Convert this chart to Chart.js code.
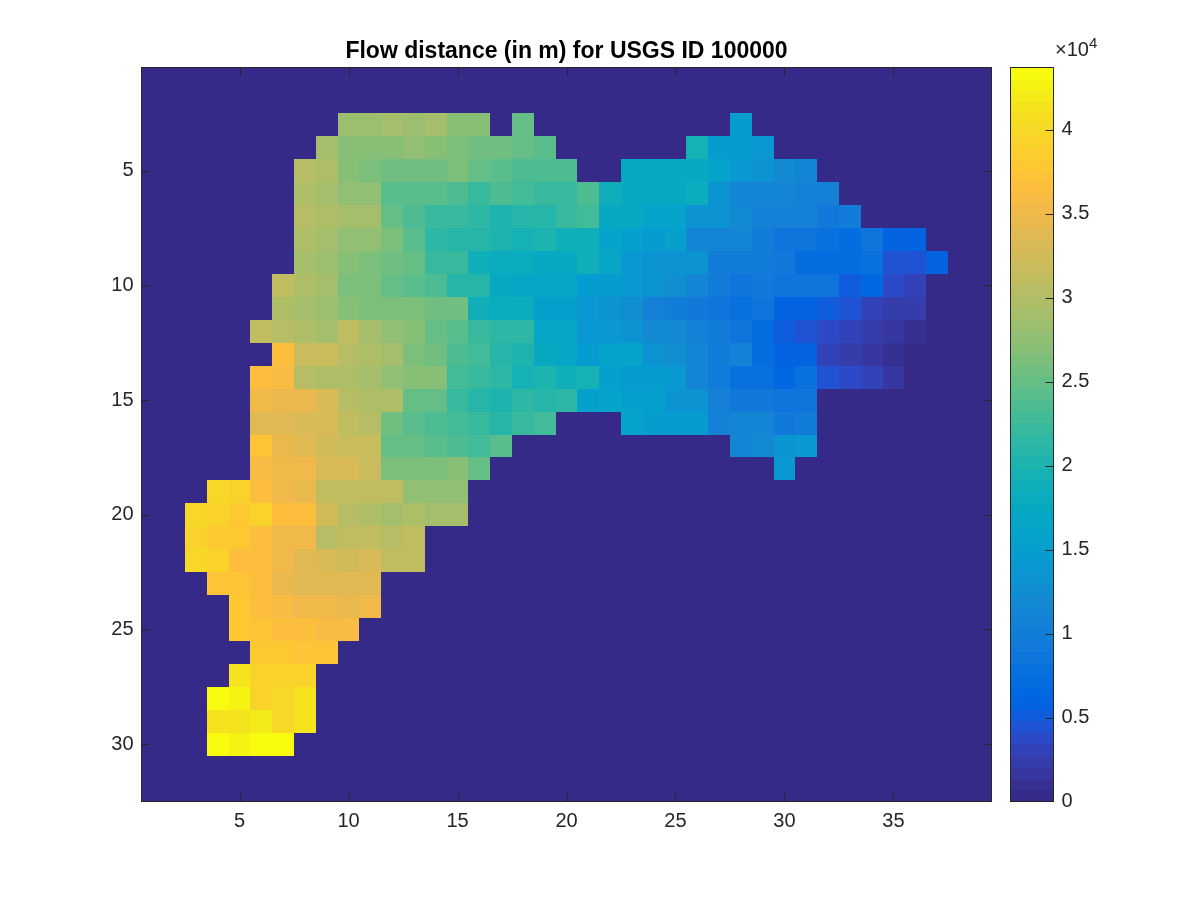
<!DOCTYPE html>
<html>
<head>
<meta charset="utf-8">
<style>
html,body{margin:0;padding:0;background:#fff;}
canvas{position:absolute;left:0;top:0;}
</style>
<script src="https://cdn.jsdelivr.net/npm/chart.js@4"></script>
</head>
<body>
<canvas id="map" width="1200" height="900"></canvas>
<canvas id="bar" width="1200" height="900"></canvas>
<script>
const titleText = 'Flow distance (in m) for USGS ID 100000';
const xTickValues = [5,10,15,20,25,30,35];
const yTickValues = [5,10,15,20,25,30];
const barTickValues = [0,0.5,1,1.5,2,2.5,3,3.5,4];
const barExponent = '4';
const maxValue = 4.37; // x 10^4 m
const columnCount = 39;

// flow distance per cell, in km; rows read top to bottom, missing trailing cells are 0
const row01 = [];
const row02 = [];
const row03 = [0,0,0,0,0,0,0,0,0,28,28,29,28,29.3,27,27,0,25.2,0,0,0,0,0,0,0,0,0,15];
const row04 = [0,0,0,0,0,0,0,0,28.7,27.3,26.8,26.8,27.5,27,26.2,25.3,25.3,24.9,24,0,0,0,0,0,0,19.2,15,14.8,14];
const row05 = [0,0,0,0,0,0,0,30.6,30,27.3,26.2,25.3,25.3,25.3,26.3,24.9,24,23.5,23.5,23.5,0,0,17.5,17.5,17.5,17.7,16.2,14.3,13.5,12.2,11.5];
const row06 = [0,0,0,0,0,0,0,29.5,28.7,27.4,27.4,24.3,24.1,24.1,23.5,22.2,23.7,22.7,22.1,22.1,23.6,18.5,17.3,17.3,17.3,18,13.3,11.5,11.5,11.5,10.3,10.9];
const row07 = [0,0,0,0,0,0,0,30.4,29.5,28.7,28.7,25,23.4,22.2,22,21.3,20.3,21,20.6,22.1,22.6,17.3,17.3,16.2,16,13.2,13.2,12,10.5,10.5,10.5,9,9.6];
const row08 = [0,0,0,0,0,0,0,29.5,29,27.5,27.5,26,24.2,21.7,21,20.6,20,19.2,20.3,19,19,16.3,15.5,15,15.2,11.3,11.3,11.3,10,8.8,8.8,7.8,7.3,8.5,6,6];
const row09 = [0,0,0,0,0,0,0,29,28,27.2,26,25.4,24.8,22.4,22,18.5,18,18,17.5,17.5,18.8,16.5,14,13,13,13,10.2,10.2,10.2,9.3,7.2,7.2,7.2,7.6,4.7,4.7,5.5];
const row10 = [0,0,0,0,0,0,30.8,29.8,29.3,26.6,26,24.8,24.1,23.6,20.5,20.5,17.5,16.5,16.5,16.5,14.5,14.5,14,13,12.3,11.3,10.2,8.8,9,8.8,8.8,8.2,5.2,6.3,3.8,2.9];
const row11 = [0,0,0,0,0,0,29.6,29,28,27,26,26,26,25.4,25.4,18.6,18.3,18.3,15.5,15.3,13.8,13.5,12.3,10.4,10.2,8.9,8.6,7.6,8.7,5.9,6,5.3,4.5,3,2.6,2.6];
const row12 = [0,0,0,0,0,30.8,30.2,29.8,28.7,30.8,29,27.4,27,24.6,24.3,22.2,21.5,21.5,17,16.5,14.1,14.2,13.4,12.2,12,10.3,10,8.8,7,5.1,4.2,3.5,2.9,2.6,1.7,1];
const row13 = [0,0,0,0,0,0,36.5,31.5,31.5,30.4,29.9,29.3,26.4,25.8,23.8,23,20.6,20,17.5,16.6,15,16.2,16,13.3,12.4,11,10,10.5,7.4,6,6,3.4,2.5,1.8,1.2];
const row14 = [0,0,0,0,0,36.5,35.8,30.4,30,29.4,29,27.4,27,27,22.7,22.5,21.5,19.2,20.3,19,19.2,15.3,14.6,14.6,14.2,11.2,10,7.8,7.6,6.7,8,4.6,4,3.1,2];
const row15 = [0,0,0,0,0,35.3,34.5,34.5,33,30.3,29.8,29.5,24.8,24.6,22,21,20.2,21.2,20.7,21.5,15.5,15.8,15.6,15.2,13.5,13.4,10.5,9,9,8.7,8.7];
const row16 = [0,0,0,0,0,34,33.5,32.8,33,30.8,30.4,25.8,24.1,23.4,22.7,22.1,20.9,22.3,22.8,0,0,0,15.8,14.5,14.5,14.5,10.8,11,11,9,10];
const row17 = [0,0,0,0,0,37,34.2,33.7,32.7,31.5,31.5,25.2,25,24,23.5,22.8,23.9,0,0,0,0,0,0,0,0,0,0,11.5,12,13,13.8];
const row18 = [0,0,0,0,0,35.8,35.4,35,33.2,33.2,31.8,26.6,26.3,26.3,27,24.9,0,0,0,0,0,0,0,0,0,0,0,0,0,14];
const row19 = [0,0,0,39.8,39.6,36.8,35.3,34.5,31.2,31,31,30.8,27.8,27.8,27.8];
const row20 = [0,0,40,39.5,37.8,39.5,36.3,36.3,32.3,30.3,29.6,29,30,29.2,29.2];
const row21 = [0,0,39,38,37.6,36.8,35,35,30.6,30.8,30.8,30.4,31];
const row22 = [0,0,39.8,39,36.8,36.2,35.2,33.6,33,32.4,33,31,31.3];
const row23 = [0,0,0,37.4,37,36.5,34.5,34,33.6,33.6,33.6];
const row24 = [0,0,0,0,38,36.2,35.6,35,35,34.4,35.4];
const row25 = [0,0,0,0,37.8,37,36.6,36.6,36,36];
const row26 = [0,0,0,0,0,37.8,37.8,37,37];
const row27 = [0,0,0,0,41,39,39.2,39.2];
const row28 = [0,0,0,43.4,42.6,39.5,39.8,41];
const row29 = [0,0,0,41.4,41,41.8,40,41.3];
const row30 = [0,0,0,43.4,42.6,43.5,43.5];
const row31 = [];
const row32 = [];

const rows = [row01,row02,row03,row04,row05,row06,row07,row08,row09,row10,row11,row12,row13,row14,row15,row16,
              row17,row18,row19,row20,row21,row22,row23,row24,row25,row26,row27,row28,row29,row30,row31,row32];

// MATLAB parula colormap, 64 levels
const parula = [
[.2081,.1663,.5292],[.2116,.1898,.5777],[.2123,.2138,.6270],[.2081,.2386,.6771],[.1959,.2645,.7279],[.1707,.2919,.7792],[.1253,.3242,.8303],[.0591,.3598,.8683],
[.0117,.3875,.8820],[.0060,.4086,.8828],[.0165,.4266,.8786],[.0329,.4430,.8720],[.0498,.4586,.8641],[.0629,.4737,.8554],[.0723,.4887,.8467],[.0779,.5040,.8384],
[.0793,.5200,.8312],[.0749,.5375,.8263],[.0641,.5570,.8240],[.0488,.5772,.8228],[.0343,.5966,.8199],[.0265,.6137,.8135],[.0239,.6287,.8038],[.0231,.6418,.7913],
[.0228,.6535,.7768],[.0267,.6642,.7607],[.0384,.6743,.7436],[.0590,.6838,.7254],[.0843,.6928,.7062],[.1133,.7015,.6859],[.1453,.7098,.6646],[.1801,.7177,.6424],
[.2178,.7250,.6193],[.2586,.7317,.5954],[.3022,.7376,.5712],[.3482,.7424,.5473],[.3953,.7459,.5244],[.4420,.7481,.5033],[.4871,.7491,.4840],[.5300,.7491,.4661],
[.5709,.7485,.4494],[.6099,.7473,.4337],[.6473,.7456,.4188],[.6834,.7435,.4044],[.7184,.7411,.3905],[.7525,.7384,.3768],[.7858,.7356,.3633],[.8185,.7327,.3498],
[.8507,.7299,.3360],[.8824,.7274,.3217],[.9139,.7258,.3063],[.9450,.7261,.2886],[.9739,.7314,.2666],[.9938,.7455,.2403],[.9990,.7653,.2164],[.9955,.7861,.1967],
[.9880,.8066,.1794],[.9789,.8271,.1633],[.9697,.8481,.1475],[.9626,.8705,.1309],[.9589,.8949,.1132],[.9598,.9218,.0948],[.9661,.9514,.0755],[.9763,.9831,.0538]
];
const toCss = c => `rgb(${Math.round(c[0]*255)},${Math.round(c[1]*255)},${Math.round(c[2]*255)})`;
const colorFor = km => toCss(parula[Math.min(parula.length-1, Math.floor(km/10/maxValue*parula.length))]);

const FONT = '"Liberation Sans", Arial, sans-serif';
const INK = '#262626';
const TICK_SIZE = 20;
Chart.defaults.font.family = FONT;
Chart.defaults.color = INK;
Chart.defaults.animation = false;

const columnLabels = Array.from({length:columnCount},(_, i)=>String(i+1));

const datasets = rows.map((row, r) => {
  const values = columnLabels.map((_, c) => row[c] ?? 0);
  return {
    label: 'row ' + (r+1),
    data: values.map(() => [r+0.5, r+1.5]),
    backgroundColor: values.map(colorFor),
    borderWidth: 0,
    inflateAmount: 0,
    barPercentage: 1,
    categoryPercentage: 1,
    grouped: false
  };
});

// snap the cells the scales placed onto whole pixels so that neighbours share a crisp edge
const snapPlugin = {
  id: 'snap',
  beforeDatasetsDraw(chart) {
    chart.data.datasets.forEach((_, i) => {
      chart.getDatasetMeta(i).data.forEach(el => {
        const left = Math.round(el.x - el.width/2), right = Math.round(el.x + el.width/2);
        const top = Math.round(Math.min(el.y, el.base)), bottom = Math.round(Math.max(el.y, el.base));
        el.x = (left+right)/2; el.width = right-left;
        el.y = top; el.base = bottom; el.height = bottom-top;
      });
    });
  }
};

const crisp = v => Math.floor(v)+0.5;

// MATLAB style box: frame plus inward ticks on all sides
const boxPlugin = {
  id: 'box',
  afterDatasetsDraw(chart) {
    const {ctx, chartArea:a, scales:{x,y}} = chart;
    const L = crisp(a.left), R = crisp(a.right), T = crisp(a.top), B = crisp(a.bottom);
    ctx.save();
    ctx.strokeStyle = INK; ctx.lineWidth = 1;
    ctx.strokeRect(L, T, R-L, B-T);
    ctx.beginPath();
    xTickValues.forEach(v => {
      const p = Math.round(x.getPixelForValue(v-1))+0.5;
      ctx.moveTo(p,B); ctx.lineTo(p,B-8); ctx.moveTo(p,T); ctx.lineTo(p,T+8);
    });
    yTickValues.forEach(v => {
      const p = Math.round(y.getPixelForValue(v))+0.5;
      ctx.moveTo(L,p); ctx.lineTo(L+8,p); ctx.moveTo(R,p); ctx.lineTo(R-8,p);
    });
    ctx.stroke();
    ctx.restore();
  }
};

new Chart(document.getElementById('map'), {
  type: 'bar',
  data: { labels: columnLabels, datasets },
  options: {
    responsive: false,
    layout: { padding: { left: 41.5, right: 208.5, top: 0, bottom: 38.5 } },
    plugins: {
      legend: { display: false },
      tooltip: { enabled: false },
      title: {
        display: true, text: titleText, fullSize: false, color: '#000',
        font: { size: 23, weight: 'bold', family: FONT, lineHeight: 1.2 },
        padding: { top: 38, bottom: 1.9 }
      }
    },
    scales: {
      x: {
        type: 'category', offset: true,
        grid: { display: false, drawTicks: false }, border: { display: false },
        afterBuildTicks: s => { s.ticks = xTickValues.map(v => ({ value: v-1 })); },
        afterFit: s => { s.height = 60; },
        ticks: { autoSkip: false, maxRotation: 0, padding: 8, font: { size: TICK_SIZE },
                 callback(v) { return this.getLabelForValue(v); } }
      },
      y: {
        type: 'linear', reverse: true, min: 0.5, max: 32.5,
        grid: { display: false, drawTicks: false }, border: { display: false },
        afterBuildTicks: s => { s.ticks = yTickValues.map(v => ({ value: v })); },
        afterFit: s => { s.width = 100; },
        ticks: { padding: 8, font: { size: TICK_SIZE } }
      }
    }
  },
  plugins: [snapPlugin, boxPlugin]
});

// colour bar
const barDatasets = parula.map((c, i) => ({
  label: 'level ' + (i+1),
  data: [[i*maxValue/parula.length, (i+1)*maxValue/parula.length]],
  backgroundColor: toCss(c),
  borderWidth: 0,
  inflateAmount: 0,
  barPercentage: 1,
  categoryPercentage: 1,
  grouped: false
}));

const barBoxPlugin = {
  id: 'barBox',
  afterDatasetsDraw(chart) {
    const {ctx, chartArea:a, scales:{y}} = chart;
    const L = crisp(a.left), R = crisp(a.right), T = crisp(a.top), B = crisp(a.bottom);
    ctx.save();
    ctx.strokeStyle = INK; ctx.lineWidth = 1;
    ctx.strokeRect(L, T, R-L, B-T);
    ctx.beginPath();
    barTickValues.forEach(v => {
      if (v === 0) return;
      const p = Math.round(y.getPixelForValue(v))+0.5;
      ctx.moveTo(R,p); ctx.lineTo(R-8,p);
    });
    ctx.stroke();
    ctx.fillStyle = INK;
    ctx.textBaseline = 'alphabetic'; ctx.textAlign = 'left';
    ctx.font = '20px ' + FONT;
    ctx.fillText('\u00D710', 1055, 56);
    const w = ctx.measureText('\u00D710').width;
    ctx.font = '15px ' + FONT;
    ctx.fillText(barExponent, 1055 + w, 48);
    ctx.restore();
  }
};

new Chart(document.getElementById('bar'), {
  type: 'bar',
  data: { labels: ['colour'], datasets: barDatasets },
  options: {
    responsive: false,
    layout: { padding: { left: 1010.5, right: 46.5, top: 67.5, bottom: 98.5 } },
    plugins: { legend: { display: false }, tooltip: { enabled: false } },
    scales: {
      x: { type: 'category', display: false, offset: true, grid: { display: false } },
      y: {
        type: 'linear', position: 'right', min: 0, max: maxValue,
        grid: { display: false, drawTicks: false }, border: { display: false },
        afterBuildTicks: s => { s.ticks = barTickValues.map(v => ({ value: v })); },
        afterFit: s => { s.width = 100; },
        ticks: { padding: 8, font: { size: TICK_SIZE }, callback: v => String(v) }
      }
    }
  },
  plugins: [snapPlugin, barBoxPlugin]
});
</script>
</body>
</html>
